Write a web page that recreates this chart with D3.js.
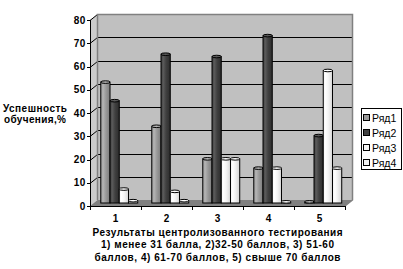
<!DOCTYPE html>
<html>
<head>
<meta charset="utf-8">
<script src="https://cdn.jsdelivr.net/npm/d3@7"></script>
<style>
  body { margin: 0; background: #fff; }
  text { font-family: "Liberation Sans", Arial, sans-serif; }
</style>
</head>
<body>
<div id="chart"></div>
<script>
const categories = ['1', '2', '3', '4', '5'];
const seriesNames = ['Ряд1', 'Ряд2', 'Ряд3', 'Ряд4'];
const row1 = [52, 33, 19, 15, 0.5];
const row2 = [44, 64, 63, 72, 29];
const row3 = [6, 5, 19, 15, 57];
const row4 = [1, 1, 19, 0.5, 15];
const yTicks = [0, 10, 20, 30, 40, 50, 60, 70, 80];
const yTitle = ['Успешность', 'обучения,%'];
const xTitle = [
    'Результаты центролизованного тестирования',
    '1) менее 31 балла, 2)32-50 баллов, 3) 51-60',
    'баллов, 4) 61-70 баллов, 5) свыше 70 баллов'
];

const series = [row1, row2, row3, row4];

const width = 403, height = 269;
const depth = { dx: 7.5, dy: -6 };

// colours of each series: [light, main, dark]
const shades = [
    ['#b4b4b4', '#9a9a9a', '#7c7c7c'],
    ['#5a5a5a', '#404040', '#2c2c2c'],
    ['#ffffff', '#f4f4f4', '#d8d8d8'],
    ['#ffffff', '#f0f0f0', '#d4d4d4']
];

const x = d3.scaleBand().domain(categories).range([90, 345]).padding(0);
const y = d3.scaleLinear().domain([0, 80]).range([206, 20]);
const inner = d3.scaleBand().domain(d3.range(seriesNames.length))
    .range([0, x.bandwidth()]).paddingInner(0).paddingOuter(0.76);

const svg = d3.select('#chart').append('svg')
    .attr('width', width).attr('height', height);

const defs = svg.append('defs');
shades.forEach((s, i) => {
    const g = defs.append('linearGradient').attr('id', 'g' + i)
        .attr('x1', '0%').attr('x2', '100%');
    g.append('stop').attr('offset', '0%').attr('stop-color', s[1]);
    g.append('stop').attr('offset', '25%').attr('stop-color', s[0]);
    g.append('stop').attr('offset', '55%').attr('stop-color', s[1]);
    g.append('stop').attr('offset', '100%').attr('stop-color', s[2]);
});

const x0 = x.range()[0], x1 = x.range()[1];
const yb = y(0), yt = y(80);

// side wall, back wall, floor
svg.append('path')
    .attr('d', `M${x0},${yt}L${x0 + depth.dx},${yt + depth.dy}L${x0 + depth.dx},${yb + depth.dy}L${x0},${yb}Z`)
    .attr('fill', '#cccccc');
svg.append('rect')
    .attr('x', x0 + depth.dx).attr('y', yt + depth.dy)
    .attr('width', x1 - x0).attr('height', yb - yt)
    .attr('fill', '#c0c0c0');
svg.append('path')
    .attr('d', `M${x0},${yb}L${x1},${yb}L${x1 + depth.dx},${yb + depth.dy}L${x0 + depth.dx},${yb + depth.dy}Z`)
    .attr('fill', '#808080');

// gridlines
const grid = svg.append('g').attr('stroke', '#000').attr('stroke-width', 1);
yTicks.filter(t => t > 0).forEach(t => {
    const yy = Math.round(y(t)) + 0.5;
    grid.append('line')
        .attr('x1', x0).attr('y1', yy)
        .attr('x2', x0 + depth.dx).attr('y2', yy + depth.dy);
    if (t < 80) {
        grid.append('line')
            .attr('x1', x0 + depth.dx).attr('y1', yy + depth.dy)
            .attr('x2', x1 + depth.dx).attr('y2', yy + depth.dy);
    }
});

// wall edges
svg.append('path')
    .attr('d', `M${x0 + depth.dx},${yb + depth.dy}V${Math.round(yt + depth.dy) + 0.5}H${x1 + depth.dx}V${yb + depth.dy}L${x1},${yb}`)
    .attr('fill', 'none').attr('stroke', '#808080').attr('stroke-width', 1.5);

// bars
const mid = { dx: depth.dx / 2, dy: depth.dy / 2 };
const bw = inner.bandwidth();
const bars = [];
categories.forEach((c, ci) => {
    series.forEach((s, si) => {
        bars.push({ c, si, v: s[ci] });
    });
});

const barG = svg.append('g').selectAll('g')
    .data(bars)
    .join('g')
    .attr('transform', d => `translate(${x(d.c) + inner(d.si) + mid.dx},${mid.dy})`);

barG.append('rect')
    .attr('x', 0).attr('y', d => y(d.v))
    .attr('width', bw)
    .attr('height', d => y(0) - y(d.v))
    .attr('fill', d => `url(#g${d.si})`)
    .attr('stroke', '#000').attr('stroke-width', 1);

barG.append('ellipse')
    .attr('cx', bw / 2).attr('cy', d => y(d.v))
    .attr('rx', bw / 2).attr('ry', 1.3)
    .attr('fill', d => shades[d.si][0])
    .attr('stroke', '#000').attr('stroke-width', 1);

// y axis
const yAxis = svg.append('g');
yAxis.append('line')
    .attr('x1', x0 + 0.5).attr('x2', x0 + 0.5)
    .attr('y1', yt).attr('y2', yb + 0.5)
    .attr('stroke', '#000');
yAxis.selectAll('line.tick')
    .data(yTicks)
    .join('line')
    .attr('class', 'tick')
    .attr('x1', x0 - 3).attr('x2', x0)
    .attr('y1', d => Math.round(y(d)) + 0.5).attr('y2', d => Math.round(y(d)) + 0.5)
    .attr('stroke', '#000');
yAxis.selectAll('text')
    .data(yTicks)
    .join('text')
    .attr('x', 86).attr('y', d => y(d))
    .attr('dy', '0.36em')
    .attr('text-anchor', 'end')
    .attr('font-size', 10).attr('font-weight', 'bold')
    .attr('letter-spacing', 0.6)
    .text(d => d);

// x axis
const xAxis = svg.append('g');
xAxis.append('line')
    .attr('x1', x0).attr('x2', x1 + 1)
    .attr('y1', Math.round(yb) + 0.5).attr('y2', Math.round(yb) + 0.5)
    .attr('stroke', '#000');
xAxis.selectAll('line.tick')
    .data(categories.concat(['end']))
    .join('line')
    .attr('class', 'tick')
    .attr('x1', (d, i) => Math.round(x0 + i * x.step()) + 0.5)
    .attr('x2', (d, i) => Math.round(x0 + i * x.step()) + 0.5)
    .attr('y1', yb).attr('y2', yb + 4)
    .attr('stroke', '#000');
xAxis.selectAll('text')
    .data(categories)
    .join('text')
    .attr('x', d => x(d) + x.bandwidth() / 2)
    .attr('y', 221.5)
    .attr('text-anchor', 'middle')
    .attr('font-size', 10).attr('font-weight', 'bold')
    .text(d => d);

// titles
const xTitleLens = [250, 233, 246];
svg.append('g').selectAll('text')
    .data(xTitle)
    .join('text')
    .attr('x', 217.5)
    .attr('y', (d, i) => 235.5 + i * 12.6)
    .attr('text-anchor', 'middle')
    .attr('font-size', 10).attr('font-weight', 'bold')
    .attr('textLength', (d, i) => xTitleLens[i])
    .attr('lengthAdjust', 'spacing')
    .text(d => d);

const yTitleLens = [64, 62];
svg.append('g').selectAll('text')
    .data(yTitle)
    .join('text')
    .attr('x', 35)
    .attr('y', (d, i) => 111.5 + i * 11.5)
    .attr('text-anchor', 'middle')
    .attr('font-size', 10).attr('font-weight', 'bold')
    .attr('textLength', (d, i) => yTitleLens[i])
    .attr('lengthAdjust', 'spacing')
    .text(d => d);

// legend
const legend = svg.append('g');
legend.append('rect')
    .attr('x', 361.5).attr('y', 108.5)
    .attr('width', 40).attr('height', 61)
    .attr('fill', '#fff').attr('stroke', '#000');
const item = legend.selectAll('g')
    .data(seriesNames)
    .join('g')
    .attr('transform', (d, i) => `translate(0,${118 + i * 15})`);
item.append('rect')
    .attr('x', 363.5).attr('y', -3.5)
    .attr('width', 6).attr('height', 6)
    .attr('fill', (d, i) => shades[i][1])
    .attr('stroke', '#000');
item.append('text')
    .attr('x', 372).attr('y', 0)
    .attr('dy', '0.36em')
    .attr('font-size', 10.5)
    .text(d => d);
</script>
</body>
</html>
